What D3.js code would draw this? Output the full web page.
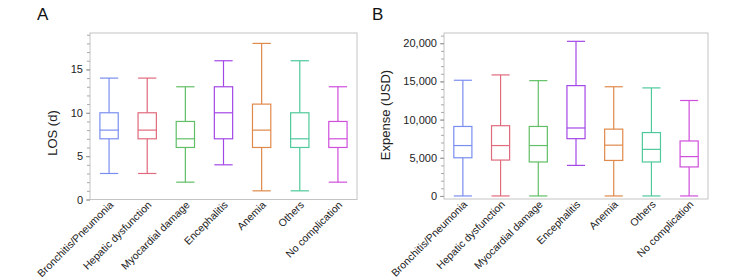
<!DOCTYPE html>
<html>
<head>
<meta charset="utf-8">
<script src="https://cdn.jsdelivr.net/npm/d3@7"></script>
<style>
  body { margin: 0; background: #fff; }
  svg { font-family: "Liberation Sans", Arial, sans-serif; }
</style>
</head>
<body>
<div id="chart"></div>
<script>
// categories shared by both panels
var categories = ["Bronchitis/Pneumonia", "Hepatic dysfunction", "Myocardial damage",
                  "Encephalitis", "Anemia", "Others", "No complication"];
var colors = ["#7a8ef0", "#e06b7d", "#62bf66", "#a347e6", "#e0894a", "#4fc99a", "#cf4fdc"];

// panel A: length of stay (days)  [min, q1, median, q3, max]
var losMin    = [3, 3, 2, 4, 1, 1, 2];
var losQ1     = [7, 7, 6, 7, 6, 6, 6];
var losMedian = [8, 8, 7, 10, 8, 7, 7];
var losQ3     = [10, 10, 9, 13, 11, 10, 9];
var losMax    = [14, 14, 13, 16, 18, 16, 13];
var losTicks  = [0, 5, 10, 15];

// panel B: expense (USD)
var expMin    = [0, 0, 0, 4000, 0, 0, 0];
var expQ1     = [5000, 4700, 4450, 7500, 4650, 4450, 3800];
var expMedian = [6600, 6600, 6600, 8900, 6650, 6100, 5150];
var expQ3     = [9100, 9200, 9100, 14450, 8750, 8300, 7200];
var expMax    = [15150, 15850, 15100, 20250, 14300, 14150, 12500];
var expTicks  = [0, 5000, 10000, 15000, 20000];

var svg = d3.select("#chart").append("svg")
    .attr("width", 731)
    .attr("height", 280);

function boxPanel(opts){
    var g = svg.append("g");
    var x = d3.scaleBand().domain(categories).range([opts.left, opts.right]);
    var y = d3.scaleLinear().domain(opts.domain).range([opts.bottom, opts.top]);

    var rows = categories.map(function(c, i){
        return {cat: c, min: opts.min[i], q1: opts.q1[i], med: opts.med[i],
                q3: opts.q3[i], max: opts.max[i], color: colors[i]};
    });

    // frame
    g.append("rect")
        .attr("x", opts.left).attr("y", opts.top)
        .attr("width", opts.right - opts.left)
        .attr("height", opts.bottom - opts.top)
        .attr("fill", "none").attr("stroke", "#c4c4c4").attr("stroke-width", 1);

    // minor ticks
    var minor = d3.range(opts.domain[0] < 0 ? 0 : Math.ceil(opts.domain[0]), opts.domain[1], opts.minorStep);
    g.append("g")
        .attr("transform", "translate(" + opts.left + ",0)")
        .call(d3.axisLeft(y).tickValues(minor).tickSize(3).tickFormat(""))
        .call(function(a){ a.select(".domain").remove(); a.selectAll("line").attr("stroke", "#aaa"); });

    // major ticks
    var yAxis = g.append("g")
        .attr("transform", "translate(" + opts.left + ",0)")
        .call(d3.axisLeft(y).tickValues(opts.ticks).tickSize(4).tickPadding(3).tickFormat(opts.fmt));
    yAxis.select(".domain").remove();
    yAxis.selectAll("line").attr("stroke", "#999");
    yAxis.selectAll("text").attr("fill", "#222").style("font-size", "11px");

    // x labels
    g.selectAll(".xlab").data(categories).enter().append("text")
        .attr("transform", function(d){ return "translate(" + (x(d) + x.bandwidth() / 2 + 5) + "," + (opts.bottom + 6) + ") rotate(-45)"; })
        .attr("text-anchor", "end")
        .attr("fill", "#222")
        .style("font-size", "10.5px")
        .text(function(d){ return d; });

    var bw = x.bandwidth() * 0.48;
    var box = g.selectAll(".box").data(rows).enter().append("g")
        .attr("transform", function(d){ return "translate(" + (x(d.cat) + x.bandwidth() / 2) + ",0)"; })
        .attr("stroke", function(d){ return d.color; })
        .attr("stroke-width", 1.2)
        .attr("fill", "none");

    box.append("line").attr("x1", 0).attr("x2", 0)
        .attr("y1", function(d){ return y(d.max); }).attr("y2", function(d){ return y(d.q3); });
    box.append("line").attr("x1", 0).attr("x2", 0)
        .attr("y1", function(d){ return y(d.q1); }).attr("y2", function(d){ return y(d.min); });
    box.append("line").attr("x1", -bw / 2).attr("x2", bw / 2)
        .attr("y1", function(d){ return y(d.max); }).attr("y2", function(d){ return y(d.max); });
    box.append("line").attr("x1", -bw / 2).attr("x2", bw / 2)
        .attr("y1", function(d){ return y(d.min); }).attr("y2", function(d){ return y(d.min); });
    box.append("rect").attr("x", -bw / 2).attr("width", bw)
        .attr("y", function(d){ return y(d.q3); })
        .attr("height", function(d){ return y(d.q1) - y(d.q3); });
    box.append("line").attr("x1", -bw / 2).attr("x2", bw / 2)
        .attr("y1", function(d){ return y(d.med); }).attr("y2", function(d){ return y(d.med); });

    // y title
    g.append("text")
        .attr("transform", "translate(" + opts.titleX + "," + opts.titleY + ") rotate(-90)")
        .attr("text-anchor", "middle")
        .attr("fill", "#222")
        .style("font-size", "13px")
        .text(opts.yTitle);

    // panel letter
    g.append("text")
        .attr("x", opts.letterX).attr("y", 20)
        .attr("fill", "#111")
        .style("font-size", "17px")
        .text(opts.letter);
}

boxPanel({
    left: 90, right: 357, top: 33, bottom: 199.5,
    domain: [0, 19.2], ticks: losTicks, minorStep: 1, fmt: d3.format("d"),
    min: losMin, q1: losQ1, med: losMedian, q3: losQ3, max: losMax,
    yTitle: "LOS (d)", titleX: 57, titleY: 133, letter: "A", letterX: 37
});

boxPanel({
    left: 444, right: 708, top: 33, bottom: 199,
    domain: [-400, 21340], ticks: expTicks, minorStep: 1000, fmt: d3.format(","),
    min: expMin, q1: expQ1, med: expMedian, q3: expQ3, max: expMax,
    yTitle: "Expense (USD)", titleX: 390, titleY: 115, letter: "B", letterX: 372
});
</script>
</body>
</html>
